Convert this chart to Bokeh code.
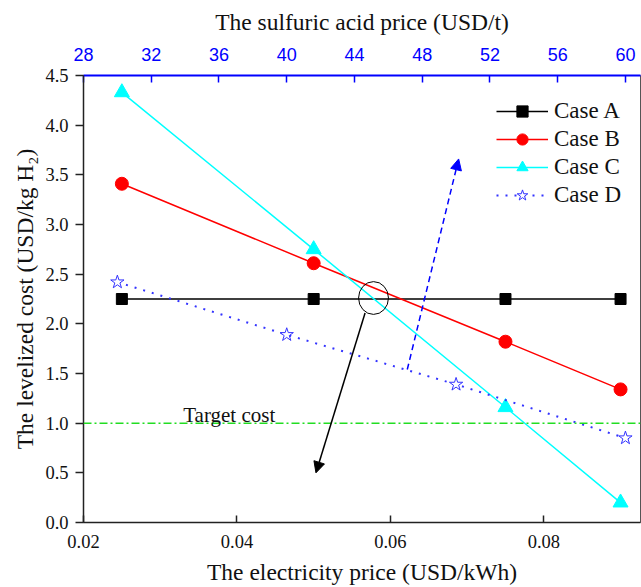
from bokeh.plotting import figure
from bokeh.models import (LinearAxis, Range1d, FixedTicker, Legend, LegendItem,
                          Span, Label, Arrow, NormalHead, NumeralTickFormatter)
from bokeh.embed import file_html
from bokeh.resources import INLINE

# ---- data ----
elec_price = [0.025, 0.05, 0.075, 0.09]          # USD/kWh (bottom axis)
case_a = [2.25, 2.25, 2.25, 2.25]
case_b = [3.41, 2.61, 1.82, 1.34]
case_c = [4.33, 2.75, 1.16, 0.20]
acid_price = [30, 40, 50, 60]                    # USD/t (top axis)
case_d = [2.42, 1.89, 1.39, 0.85]
target_cost = 1.0

x_ticks = [0.02, 0.04, 0.06, 0.08]
top_ticks = [28, 32, 36, 40, 44, 48, 52, 56, 60]
y_ticks = [0.0, 0.5, 1.0, 1.5, 2.0, 2.5, 3.0, 3.5, 4.0, 4.5]

# annotation geometry (data coords)
ellipse_xy = (0.0578, 2.26)
ellipse_wh = (0.0039, 0.33)
black_arrow = (0.0567, 2.11, 0.0503, 0.50)
blue_arrow = (0.0622, 1.54, 0.0689, 3.66)
target_label_xy = (0.033, 1.086)

SERIF = "Liberation Serif"
SANS = "Liberation Sans"

p = figure(width=641, height=587, output_backend="svg", toolbar_location=None,
           x_range=Range1d(0.02, 0.0926), y_range=Range1d(0, 4.5),
           min_border_left=83, min_border_right=1, min_border_top=75,
           min_border_bottom=64)
p.extra_x_ranges = {"acid": Range1d(28, 60.89)}
p.grid.visible = False
p.outline_line_color = "#555555"
p.background_fill_color = "white"
p.border_fill_color = "white"

# bottom axis
xa = p.xaxis[0]
xa.ticker = FixedTicker(ticks=x_ticks)
xa.formatter = NumeralTickFormatter(format="0.00")
xa.axis_label = "The electricity price (USD/kWh)"
xa.major_tick_in = 7
xa.major_tick_out = 0
xa.minor_tick_line_color = None
xa.axis_line_width = 1.5
xa.major_tick_line_width = 1.5

# left axis
ya = p.yaxis[0]
ya.ticker = FixedTicker(ticks=y_ticks)
ya.formatter = NumeralTickFormatter(format="0.0")
ya.axis_label = "The levelized cost (USD/kg H\u2082)"
ya.major_tick_in = 0
ya.major_tick_out = 8
ya.minor_tick_line_color = None
ya.axis_line_width = 1.5
ya.major_tick_line_width = 1.5
ya.major_label_orientation = "horizontal"

for ax in (xa, ya):
    ax.axis_label_text_font = SERIF
    ax.axis_label_text_font_size = "23.5px"
    ax.axis_label_text_font_style = "normal"
    ax.axis_label_text_color = "#111111"
    ax.major_label_text_font = SERIF
    ax.major_label_text_font_size = "18.5px"
    ax.major_label_text_color = "#111111"
    ax.axis_line_color = "#222222"
    ax.major_tick_line_color = "#222222"
xa.major_label_standoff = 12
xa.axis_label_standoff = 8
ya.major_label_standoff = 7
ya.axis_label_standoff = 4

# top axis
ta = LinearAxis(x_range_name="acid", ticker=FixedTicker(ticks=top_ticks),
                axis_label="The sulfuric acid price (USD/t)")
ta.axis_line_color = "blue"
ta.axis_line_width = 2
ta.major_tick_line_color = "blue"
ta.major_tick_line_width = 1.5
ta.major_tick_in = 7
ta.major_tick_out = 0
ta.minor_tick_line_color = None
ta.major_label_text_color = "blue"
ta.major_label_text_font = SANS
ta.major_label_text_font_size = "18px"
ta.major_label_standoff = 15
ta.axis_label_text_font = SERIF
ta.axis_label_text_font_size = "23.5px"
ta.axis_label_text_font_style = "normal"
ta.axis_label_text_color = "#111111"
ta.axis_label_standoff = 10
p.add_layout(ta, "above")

# target line
p.add_layout(Span(location=target_cost, dimension="width", line_color="#22DD22",
                  line_width=1.5, line_dash="8 3 2 3"))
p.add_layout(Label(x=target_label_xy[0], y=target_label_xy[1], text="Target cost",
                   text_font=SERIF, text_font_size="21px", text_color="#111111",
                   text_baseline="alphabetic"))

# series
la = p.line(elec_price, case_a, line_color="black", line_width=1.3)
ma = p.scatter(elec_price, case_a, marker="square", size=11, color="black")
lb = p.line(elec_price, case_b, line_color="red", line_width=1.5)
mb = p.scatter(elec_price, case_b, marker="circle", size=13, color="red")
lc = p.line(elec_price, case_c, line_color="cyan", line_width=1.5)
mc = p.scatter(elec_price, case_c, marker="triangle", size=15, color="cyan")
ld = p.line(acid_price, case_d, x_range_name="acid", line_color="#3333FF",
            line_width=2, line_dash="2 7")
md = p.scatter(acid_price, case_d, x_range_name="acid", marker="star", size=14,
               line_color="#3333FF", fill_color="white", line_width=1)

# ellipse + arrows
p.ellipse(x=[ellipse_xy[0]], y=[ellipse_xy[1]], width=ellipse_wh[0],
          height=ellipse_wh[1], fill_color=None, line_color="black", line_width=1)
p.add_layout(Arrow(x_start=black_arrow[0], y_start=black_arrow[1],
                   x_end=black_arrow[2], y_end=black_arrow[3],
                   line_color="black", line_width=1.5,
                   end=NormalHead(size=11, fill_color="black", line_color="black")))
p.add_layout(Arrow(x_start=blue_arrow[0], y_start=blue_arrow[1],
                   x_end=blue_arrow[2], y_end=blue_arrow[3],
                   line_color="blue", line_width=1.5, line_dash="6 4",
                   end=NormalHead(size=11, fill_color="blue", line_color="blue",
                                  line_dash="solid")))

legend = Legend(items=[LegendItem(label="Case A", renderers=[la, ma]),
                       LegendItem(label="Case B", renderers=[lb, mb]),
                       LegendItem(label="Case C", renderers=[lc, mc]),
                       LegendItem(label="Case D", renderers=[ld, md])],
                location=(413, 313))
legend.border_line_color = None
legend.background_fill_alpha = 0
legend.label_text_font = SERIF
legend.label_text_font_size = "23px"
legend.label_text_color = "#111111"
legend.glyph_width = 52
legend.glyph_height = 28
legend.label_height = 28
legend.label_width = 70
legend.spacing = 0
legend.label_standoff = 6
legend.margin = 0
legend.padding = 0
p.add_layout(legend)

open("out.html", "w").write(file_html(p, INLINE))
